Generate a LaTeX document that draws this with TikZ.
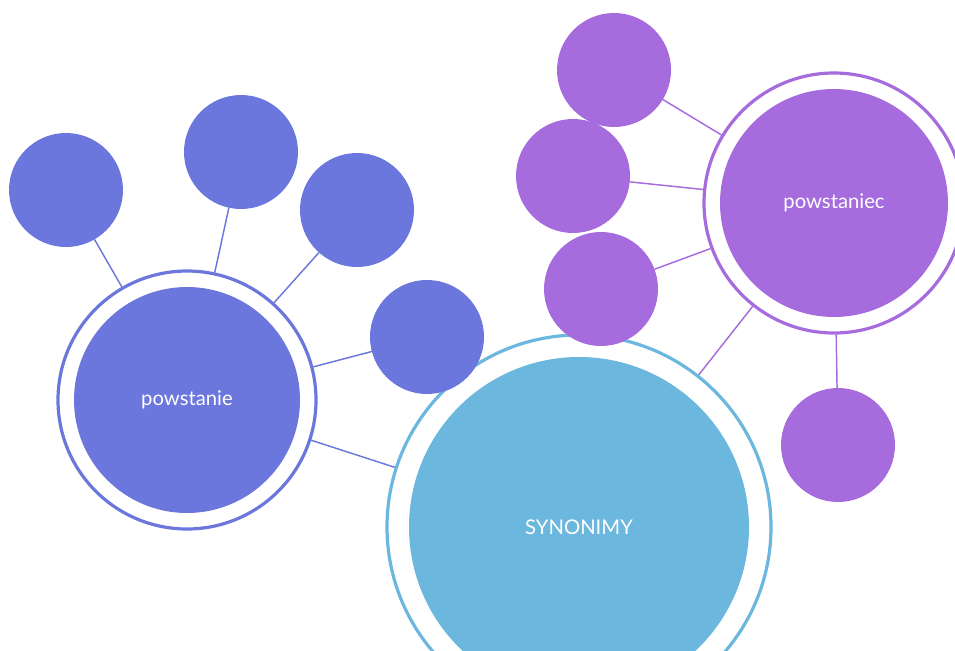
\documentclass[tikz,border=0pt]{standalone}
\usepackage{fontspec}
\setmainfont{Lato}
\definecolor{termblue}{HTML}{6C77DD}
\definecolor{termpurple}{HTML}{A66CDD}
\definecolor{rootcyan}{HTML}{6CB7DD}
\tikzset{
  bubble/.style={circle, minimum size=85.5pt, inner sep=0pt, outer sep=0pt},
  hubring/.style={circle, draw, line width=2.4pt, inner sep=0pt},
  hubfill/.style={circle, inner sep=0pt, outer sep=0pt, text=white,
                  font=\fontsize{15.2}{17}\selectfont},
  link/.style={line width=1.1pt},
}

\begin{document}
\begin{tikzpicture}[x=0.75pt, y=-0.75pt]
    \useasboundingbox (0,0) rectangle (955,650);
    \clip (0,0) rectangle (955,650);
    % root
    \node[hubring, draw=rootcyan, minimum size=288pt] (synonimy) at (579,527) {};
    \node[hubfill, fill=rootcyan, minimum size=255pt] (synonimyfill) at (579,527) {SYNONIMY};
    % powstanie
    \node[hubring, draw=termblue, minimum size=193.5pt] (powstanie) at (187,400) {};
    \node[hubfill, fill=termblue, minimum size=169.5pt] (powstaniefill) at (187,400) {powstanie};
    \node[bubble, fill=termblue] (b1) at (66,190) {};
    \node[bubble, fill=termblue] (b2) at (241,152) {};
    \node[bubble, fill=termblue] (b3) at (357,210) {};
    \node[bubble, fill=termblue] (b4) at (427,337) {};
    % powstaniec
    \node[hubring, draw=termpurple, minimum size=195pt] (powstaniec) at (834,203) {};
    \node[hubfill, fill=termpurple, minimum size=171pt] (powstaniecfill) at (834,203) {powstaniec};
    \node[bubble, fill=termpurple] (p1) at (614,70) {};
    \node[bubble, fill=termpurple] (p2) at (573,176) {};
    \node[bubble, fill=termpurple] (p3) at (601,289) {};
    \node[bubble, fill=termpurple] (p4) at (838,445) {};
    % links
    \foreach \b in {b1,b2,b3,b4}
      \draw[link, termblue] (powstanie) -- (\b);
    \foreach \p in {p1,p2,p3,p4}
      \draw[link, termpurple] (powstaniec) -- (\p);
    \draw[link, termblue] (powstanie) -- (synonimy);
    \draw[link, termpurple] (powstaniec) -- (synonimy);
  \end{tikzpicture}
\end{document}
